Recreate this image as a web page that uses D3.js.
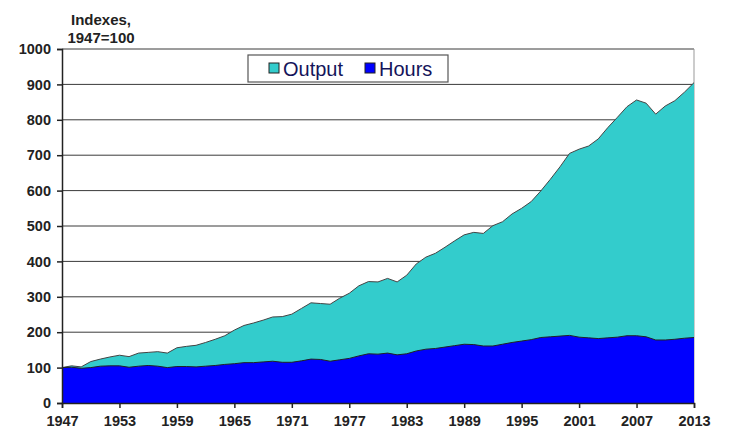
<!DOCTYPE html>
<html lang="en">
<head>
  <meta charset="UTF-8">
  <title>Output and Hours, 1947=100</title>
  <style>
    body { margin: 0; background: #fff; }
    svg text { font-family: 'Liberation Sans', Arial, sans-serif; }
  </style>
  <script src="https://d3js.org/d3.v7.min.js"></script>
</head>
<body>
  <div id="chart"></div>
  <script>
    const years = d3.range(1947, 2014);
    const output = [100, 105, 102, 117, 124, 130, 135, 131, 141, 143, 145, 141, 156, 160, 163, 171,
      180, 190, 206, 219, 226, 234, 243, 244, 251, 267, 283, 281, 279, 296, 310, 331, 343, 342,
      352, 342, 361, 393, 412, 423, 440, 458, 475, 482, 479, 501, 512, 534, 550, 569, 599, 632,
      667, 705, 717, 726, 746, 778, 807, 837, 856, 847, 816, 839, 854, 878, 905];
    const hours = [100, 101, 98, 100, 104, 105, 105, 101, 104, 106, 104, 100, 103, 103, 102, 104,
      106, 109, 111, 114, 114, 116, 118, 115, 115, 119, 124, 123, 118, 122, 126, 133, 139, 138,
      141, 136, 139, 147, 152, 154, 158, 162, 166, 165, 161, 161, 166, 171, 175, 179, 185, 187,
      189, 191, 186, 184, 182, 184, 186, 190, 190, 187, 178, 178, 180, 183, 185];
    const yTicks = d3.range(0, 1001, 100);
    const xTicks = d3.range(1947, 2014, 6);

    const width = 744, height = 443;
    const margin = { top: 49, right: 50, bottom: 40, left: 62 };

    const svg = d3.select("#chart").append("svg")
      .attr("width", width)
      .attr("height", height);

    const x = d3.scaleLinear()
      .domain([1947, 2013])
      .range([margin.left, width - margin.right]);
    const y = d3.scaleLinear()
      .domain([0, 1000])
      .range([height - margin.bottom, margin.top]);

    const data = years.map((yr, i) => ({ year: yr, output: output[i], hours: hours[i] }));

    // gridlines
    svg.append("g")
      .selectAll("line")
      .data(yTicks.filter(d => d > 0))
      .join("line")
      .attr("x1", x(1947)).attr("x2", x(2013))
      .attr("y1", d => y(d)).attr("y2", d => y(d))
      .attr("stroke", "#3a3a3a")
      .attr("stroke-width", 1);

    // right border
    svg.append("line")
      .attr("x1", x(2013)).attr("x2", x(2013))
      .attr("y1", y(1000)).attr("y2", y(0))
      .attr("stroke", "#999")
      .attr("stroke-width", 1);

    const areaOut = d3.area()
      .x(d => x(d.year))
      .y0(y(0))
      .y1(d => y(d.output));
    const areaHrs = d3.area()
      .x(d => x(d.year))
      .y0(y(0))
      .y1(d => y(d.hours));

    svg.append("path")
      .datum(data)
      .attr("d", areaOut)
      .attr("fill", "#33cccc");
    svg.append("path")
      .datum(data)
      .attr("d", d3.line().x(d => x(d.year)).y(d => y(d.output)))
      .attr("fill", "none")
      .attr("stroke", "#444")
      .attr("stroke-width", 1);

    svg.append("path")
      .datum(data)
      .attr("d", areaHrs)
      .attr("fill", "#0000ff");
    svg.append("path")
      .datum(data)
      .attr("d", d3.line().x(d => x(d.year)).y(d => y(d.hours)))
      .attr("fill", "none")
      .attr("stroke", "#222")
      .attr("stroke-width", 1);

    // axes
    const yAxis = svg.append("g")
      .attr("transform", `translate(${margin.left},0)`)
      .call(d3.axisLeft(y).tickValues(yTicks).tickFormat(d3.format("d")).tickSize(5).tickPadding(6));
    const xAxis = svg.append("g")
      .attr("transform", `translate(0,${y(0)})`)
      .call(d3.axisBottom(x).tickValues(xTicks).tickFormat(d3.format("d")).tickSize(5).tickPadding(8));

    [yAxis, xAxis].forEach(g => {
      g.select(".domain").attr("stroke", "#222").attr("stroke-width", 1.5);
      g.selectAll(".tick line").attr("stroke", "#222").attr("stroke-width", 1.5);
      g.selectAll(".tick text")
        .attr("fill", "#222")
        .style("font-size", "14.5px")
        .style("font-weight", "bold");
    });

    // y axis title
    svg.append("text")
      .attr("x", 101).attr("y", 25)
      .attr("text-anchor", "middle")
      .style("font-size", "15px").style("font-weight", "bold").attr("fill", "#222")
      .text("Indexes,");
    svg.append("text")
      .attr("x", 101).attr("y", 43)
      .attr("text-anchor", "middle")
      .style("font-size", "15px").style("font-weight", "bold").attr("fill", "#222")
      .text("1947=100");

    // legend
    const legend = svg.append("g").attr("transform", "translate(248,55)");
    legend.append("rect")
      .attr("width", 200).attr("height", 27)
      .attr("fill", "#fff")
      .attr("stroke", "#555").attr("stroke-width", 1.2);
    const items = [
      { label: "Output", color: "#33cccc", x: 21 },
      { label: "Hours", color: "#0000ff", x: 117 }
    ];
    items.forEach(it => {
      legend.append("rect")
        .attr("x", it.x).attr("y", 8)
        .attr("width", 10).attr("height", 10)
        .attr("fill", it.color)
        .attr("stroke", "#222").attr("stroke-width", 1);
      legend.append("text")
        .attr("x", it.x + 14).attr("y", 21)
        .style("font-size", "20px")
        .attr("fill", "#14145a")
        .text(it.label);
    });
  </script>
</body>
</html>
